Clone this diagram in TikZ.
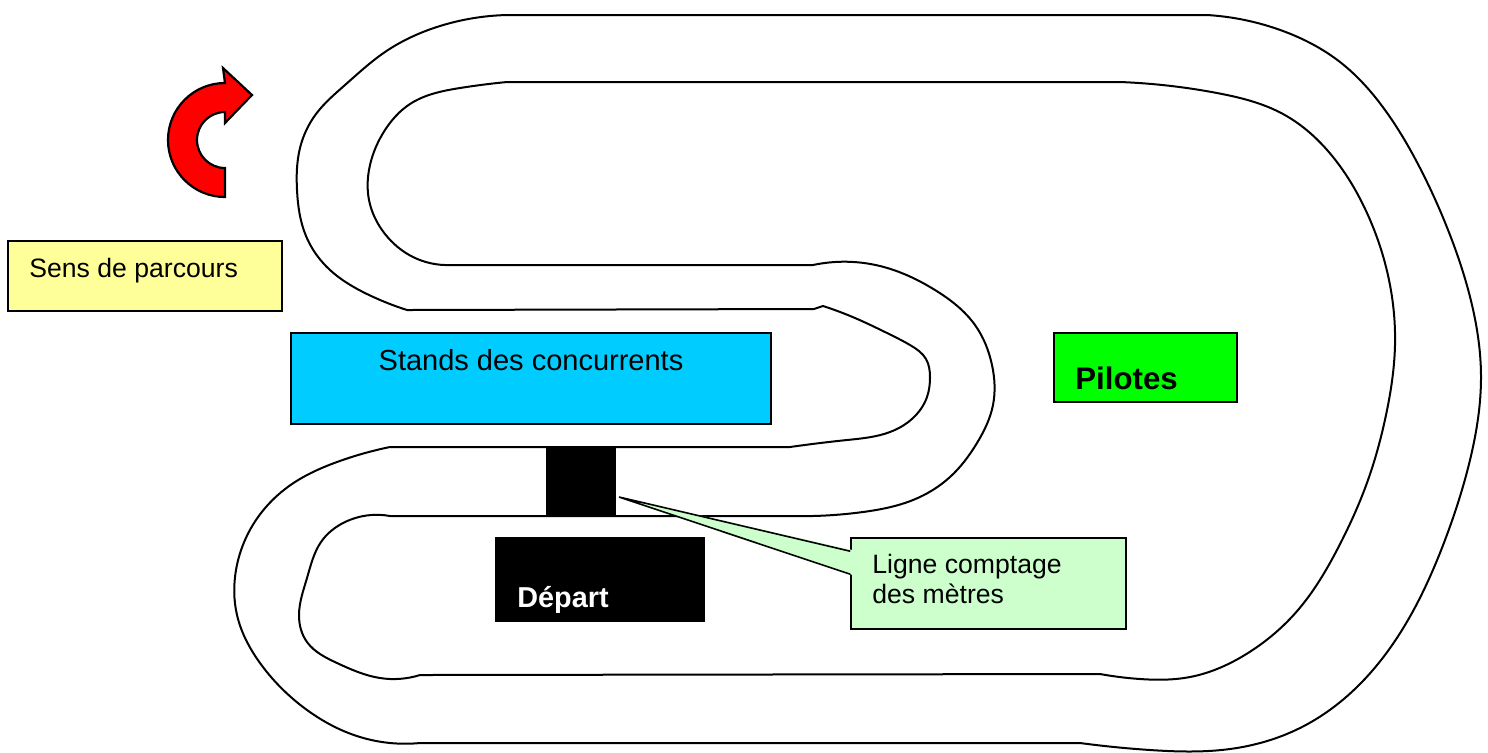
\documentclass[tikz,border=0pt]{standalone}
\usepackage{fontspec}
\setmainfont{Liberation Sans}
\usetikzlibrary{calc,hobby}
\definecolor{sensfill}{HTML}{FFFF99}
\definecolor{standfill}{HTML}{00CCFF}
\definecolor{pilfill}{HTML}{00FF00}
\definecolor{callfill}{HTML}{CCFFCC}
\begin{document}
\begin{tikzpicture}[x=0.5pt,y=-0.5pt,
  track/.style={line width=1pt, line join=round},
  box/.style={draw=black, line width=0.8pt, inner sep=0pt, rectangle},
  txt/.style={inner sep=0pt, anchor=base west}]
\useasboundingbox (0,0) rectangle (1488,752);

% outer boundary of the track
\draw[track] (507,15) -- (1207,15)
 to[curve through={(1283,31) (1340,62) (1385,110) (1420,168) (1450,235) (1472,305) (1481,376) (1470,460) (1445,540) (1408,620) (1358,686) (1300,728) (1230,749) (1150,750)}] (1080,743)
 -- (420,743)
 to[curve through={(360,737) (303,707) (260,663) (237,615) (236,570) (256,520) (292,484) (337,462)}] (390,447)
 -- (790,447)
 to[curve through={(847,440) (890,432) (913,418) (927,397) (930,377) (926,359) (910,345) (885,332) (855,318)}] (823,306)
 -- (814,309) -- (407,310)
 to[curve through={(367,294) (330,270) (306,236) (297,190) (300,148) (316,114) (345,85) (385,52) (440,26)}] (507,15)
 -- cycle;

% inner boundary of the track
\draw[track] (507,82) -- (1120,82)
 to[curve through={(1217,93) (1283,114) (1333,157) (1367,213) (1389,280) (1395,345) (1386,415) (1368,480) (1338,548) (1298,610) (1248,653) (1190,677) (1140,679)}] (1100,674)
 -- (420,675)
 to[curve through={(380,678) (337,663) (307,642) (299,615) (307,578) (321,542) (345,522)}] (390,516)
 -- (790,516)
 to[curve through={(863,512) (913,500) (950,477) (977,443) (993,405) (992,365) (975,325) (935,290) (880,266)}] (813,265)
 -- (450,265)
 to[curve through={(413,257) (385,234) (369,200) (370,165) (385,130) (410,104) (460,88)}] (507,82)
 -- cycle;

% direction arrow
\filldraw[fill=red, draw=black, line width=1.1pt, line join=miter]
  (225,197) arc[start angle=90, end angle=270, radius=57]
  -- (223,68) -- (252,95) -- (225,123) -- (225,112)
  arc[start angle=270, end angle=90, radius=28] -- cycle;

% Sens de parcours
\node[box, fill=sensfill, minimum width=137pt, minimum height=35pt] (sensbox) at (145,276) {};
\node[txt, font=\fontsize{13.3}{16}\selectfont] (senstxt) at (29,277) {Sens de parcours};

% Stands
\node[box, fill=standfill, minimum width=240pt, minimum height=45.5pt] (stands) at (531,378.5) {};
\node[inner sep=0pt, anchor=base, font=\fontsize{14.5}{17}\selectfont] (standstxt) at (531,370) {Stands des concurrents};

% Pilotes
\node[box, fill=pilfill, minimum width=91.5pt, minimum height=34.5pt] (pil) at (1145.5,367.5) {};
\node[txt, font=\bfseries\fontsize{15.6}{18}\selectfont] (piltxt) at (1075,389) {Pilotes};

% counting line and start
\node[fill=black, inner sep=0pt, minimum width=35pt, minimum height=34pt] (ligne) at (581,481) {};
\node[fill=black, inner sep=0pt, minimum width=105pt, minimum height=42.5pt] (depart) at (600,579.5) {};
\node[txt, text=white, font=\bfseries\fontsize{14.4}{17}\selectfont] (departtxt) at (517,607) {Départ};

% callout
\node[box, fill=callfill, minimum width=137.5pt, minimum height=45.5pt] (call) at (988.5,583.5) {};
\coordinate (tip) at (619,497);
\fill[callfill] (tip) -- ([yshift=-6.5pt,xshift=1.5pt]call.north west) -- ([yshift=-19pt,xshift=1.5pt]call.north west) -- cycle;
\draw[line width=0.8pt, line join=miter] ([yshift=-7pt]call.north west) -- (tip) -- ([yshift=-18.5pt]call.north west);
\node[txt, font=\fontsize{13.3}{16}\selectfont] (calltxta) at (872,573) {Ligne comptage};
\node[txt, font=\fontsize{13.3}{16}\selectfont] (calltxtb) at (872,603) {des mètres};
\end{tikzpicture}
\end{document}
